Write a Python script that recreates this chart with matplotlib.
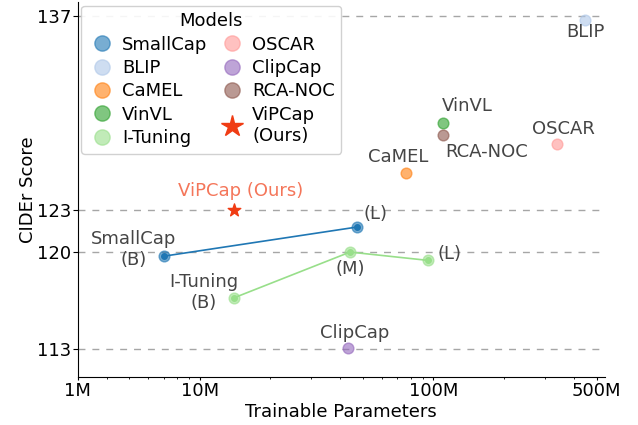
import numpy as np
import matplotlib
matplotlib.use('Agg')
import matplotlib.pyplot as plt
from matplotlib.lines import Line2D
from matplotlib.ticker import NullFormatter

plt.rcParams.update({'font.size': 13})

# single models: params (millions), CIDEr
names = ['BLIP', 'CaMEL', 'VinVL', 'OSCAR', 'ClipCap', 'RCA-NOC']
params = [446, 76, 110, 338, 43, 110]
cider = [136.7, 125.7, 129.3, 127.8, 113.1, 128.4]
colors = ['#aec7e8', '#ff7f0e', '#2ca02c', '#ff9896', '#9467bd', '#8c564b']

# model families
smallcap_params = [7, 47]
smallcap_cider = [119.7, 121.8]
ituning_params = [14, 44, 95]
ituning_cider = [116.7, 120.0, 119.4]

vipcap_params = 14
vipcap_cider = 123.0

yticks = [113, 120, 123, 137]

fig = plt.figure(figsize=(6.38, 4.25), dpi=100)
ax = fig.add_axes([0.1215, 0.1129, 0.826, 0.882])

txt = '#454545'
M = 1e6

for y in yticks:
    ax.axhline(y, color='gray', ls=(0, (5, 5)), lw=1, alpha=0.7, zorder=0)

# smallcap line
sx = np.array(smallcap_params) * M
ax.plot(sx, smallcap_cider, '-o', color='#1f77b4', lw=1.2, ms=4, zorder=3)
ax.scatter(sx, smallcap_cider, s=60, color='#1f77b4', alpha=0.6, zorder=3)
# i-tuning line
ix = np.array(ituning_params) * M
ax.plot(ix, ituning_cider, '-o', color='#98df8a', lw=1.2, ms=4, zorder=3)
ax.scatter(ix, ituning_cider, s=60, color='#98df8a', alpha=0.6, zorder=3)

for n, p, c, col in zip(names, params, cider, colors):
    ax.scatter(p * M, c, s=60, color=col, alpha=0.6, zorder=3)

ax.scatter(vipcap_params * M, vipcap_cider, marker='*', s=90, color='#f03c14', zorder=4)

# labels (offset in pixels)
def lab(s, x, y, dx, dy, ha='center', **kw):
    ax.annotate(s, (x, y), xytext=(dx, dy), textcoords='offset pixels',
                ha=ha, va='center', color=kw.pop('color', txt), fontsize=13,
                multialignment='center', **kw)

lab('SmallCap\n(B)', sx[0], smallcap_cider[0], -30, 7)
lab('(L)', sx[1], smallcap_cider[1], 7, 13, ha='left')
lab('I-Tuning\n(B)', ix[0], ituning_cider[0], -30, 5)
lab('(M)', ix[1], ituning_cider[1], 0, -17)
lab('(L)', ix[2], ituning_cider[2], 9, 6, ha='left')
offs = {'BLIP': (0, -12), 'CaMEL': (-7, 16), 'VinVL': (24, 17),
        'OSCAR': (6, 15), 'ClipCap': (7, 15), 'RCA-NOC': (44, -17)}
for n, p, c in zip(names, params, cider):
    lab(n, p * M, c, *offs[n])
lab('ViPCap (Ours)', vipcap_params * M, vipcap_cider, 7, 19, color='#f03c14', alpha=0.7)

ax.set_xscale('log')
ax.set_xlim(3e6, 5.4e8)
ax.set_ylim(111, 138)
ax.set_xticks([3e6, 1e7, 1e8, 5e8])
ax.set_xticklabels(['1M', '10M', '100M', '500M'])
ax.xaxis.set_minor_formatter(NullFormatter())
ax.set_yticks(yticks)
ax.tick_params(axis='x', which='major', length=2.5, pad=1)
ax.tick_params(axis='x', which='minor', length=1.5)
ax.tick_params(axis='y', length=3.5, pad=1)
ax.spines['top'].set_visible(False)
ax.spines['right'].set_visible(False)
ax.set_xlabel('Trainable Parameters', labelpad=2)
ax.set_ylabel('CIDEr Score', labelpad=0)

# legend
handles = [
    Line2D([], [], ls='', marker='o', ms=11, color='#1f77b4', alpha=0.6, label='SmallCap'),
    Line2D([], [], ls='', marker='o', ms=11, color='#aec7e8', alpha=0.6, label='BLIP'),
    Line2D([], [], ls='', marker='o', ms=11, color='#ff7f0e', alpha=0.6, label='CaMEL'),
    Line2D([], [], ls='', marker='o', ms=11, color='#2ca02c', alpha=0.6, label='VinVL'),
    Line2D([], [], ls='', marker='o', ms=11, color='#98df8a', alpha=0.6, label='I-Tuning'),
    Line2D([], [], ls='', marker='o', ms=11, color='#ff9896', alpha=0.6, label='OSCAR'),
    Line2D([], [], ls='', marker='o', ms=11, color='#9467bd', alpha=0.6, label='ClipCap'),
    Line2D([], [], ls='', marker='o', ms=11, color='#8c564b', alpha=0.6, label='RCA-NOC'),
    Line2D([], [], ls='', marker='*', ms=16, color='#f03c14', label='ViPCap\n(Ours)'),
]
ax.legend(handles=handles, title='Models', ncol=2, loc='upper left',
          bbox_to_anchor=(0.0, 1.0), fontsize=13, title_fontsize=13,
          handlelength=1.6, handletextpad=0.3, columnspacing=0.6,
          labelspacing=0.3, borderpad=0.35, borderaxespad=0.2,
          framealpha=0.9)

fig.savefig('out.png', dpi=100)
